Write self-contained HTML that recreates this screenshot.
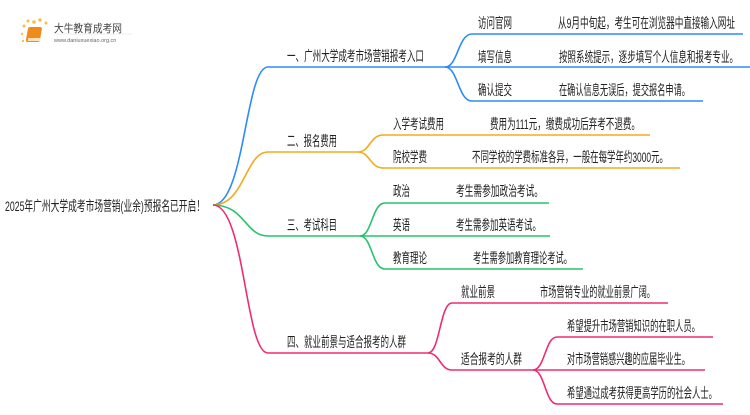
<!DOCTYPE html>
<html><head><meta charset="utf-8"><style>
body{margin:0;background:#fff;}
svg text{font-family:"Liberation Sans","Noto Sans CJK SC",sans-serif;font-size:14px;fill:#222;}
</style></head><body>
<svg width="750" height="410" viewBox="0 0 750 410" xmlns="http://www.w3.org/2000/svg">
<g>
<circle cx="24" cy="26" r="1.5" fill="#f7c04a"/><circle cx="28" cy="21" r="1.5" fill="#f7c04a"/><circle cx="34" cy="22" r="1.8" fill="#f7c04a"/><circle cx="40" cy="20" r="1.8" fill="#f7c04a"/><circle cx="46" cy="23" r="1.5" fill="#f7c04a"/><circle cx="22" cy="34" r="1.2" fill="#f7c04a"/><circle cx="23" cy="41" r="1.2" fill="#f7c04a"/>
<rect x="33" y="27" width="14" height="15" rx="2" fill="#f08a1c" transform="skewX(-10)"/>
<rect x="35" y="38" width="12" height="3" fill="#fde3b5" transform="skewX(-10)"/>
<text x="54" y="32" style="font-size:11px;fill:#444" textLength="68" lengthAdjust="spacingAndGlyphs">大牛教育成考网</text>
<text x="54" y="42" style="font-size:5.5px;fill:#666">www.daniuxuexiao.org.cn</text>
<line x1="54" y1="34" x2="132" y2="34" stroke="#ddd" stroke-width="0.6"/>
</g>
<g fill="none" stroke-width="1.6">
<g stroke="#2b8cf7">
<path d="M213,205 C245,205 245,67 268,67 L445,67"/>
<path d="M445,67 C458,67 458,34 472,34 L743,34"/>
<path d="M445,67 L750,67"/>
<path d="M445,67 C458,67 458,101 472,101 L703,101"/>
</g>
<g stroke="#f5aa1c">
<path d="M213,205 C245,205 245,152 268,152 L358,152"/>
<path d="M358,152 C370,152 370,135 383,135 L650,135"/>
<path d="M358,152 C370,152 370,168 383,168 L680,168"/>
</g>
<g stroke="#27c26c">
<path d="M213,205 C245,205 245,236 268,236 L360,236"/>
<path d="M360,236 C372,236 372,203 385,203 L549,203"/>
<path d="M360,236 L550,236"/>
<path d="M360,236 C372,236 372,269 385,269 L583,269"/>
</g>
<g stroke="#ee2c74">
<path d="M213,205 C245,205 245,353 268,353 L428,353"/>
<path d="M428,353 C440,353 440,303 452,303 L668,303"/>
<path d="M428,353 C440,353 440,370 452,370 L533,370"/>
<path d="M533,370 C545,370 545,337 557,337 L713,337"/>
<path d="M533,370 L705,370"/>
<path d="M533,370 C545,370 545,404 557,404 L723,404"/>
</g>
</g>
<g lengthAdjust="spacingAndGlyphs">
<text x="5" y="211" textLength="200" lengthAdjust="spacingAndGlyphs">2025年广州大学成考市场营销(业余)预报名已开启！</text>
<text x="287" y="61" textLength="137" lengthAdjust="spacingAndGlyphs">一、广州大学成考市场营销报考入口</text>
<text x="478" y="28" textLength="34" lengthAdjust="spacingAndGlyphs">访问官网</text><text x="558" y="28" textLength="177" lengthAdjust="spacingAndGlyphs">从9月中旬起，考生可在浏览器中直接输入网址</text>
<text x="478" y="62" textLength="34" lengthAdjust="spacingAndGlyphs">填写信息</text><text x="559" y="62" textLength="179" lengthAdjust="spacingAndGlyphs">按照系统提示，逐步填写个人信息和报考专业。</text>
<text x="478" y="95" textLength="34" lengthAdjust="spacingAndGlyphs">确认提交</text><text x="559" y="95" textLength="131" lengthAdjust="spacingAndGlyphs">在确认信息无误后，提交报名申请。</text>
<text x="287" y="146" textLength="50" lengthAdjust="spacingAndGlyphs">二、报名费用</text>
<text x="393" y="129" textLength="51" lengthAdjust="spacingAndGlyphs">入学考试费用</text><text x="490" y="129" textLength="150" lengthAdjust="spacingAndGlyphs">费用为111元，缴费成功后弃考不退费。</text>
<text x="393" y="162" textLength="34" lengthAdjust="spacingAndGlyphs">院校学费</text><text x="472" y="162" textLength="196" lengthAdjust="spacingAndGlyphs">不同学校的学费标准各异，一般在每学年约3000元。</text>
<text x="287" y="230" textLength="50" lengthAdjust="spacingAndGlyphs">三、考试科目</text>
<text x="393" y="196" textLength="17" lengthAdjust="spacingAndGlyphs">政治</text><text x="456" y="196" textLength="87" lengthAdjust="spacingAndGlyphs">考生需参加政治考试。</text>
<text x="393" y="230" textLength="17" lengthAdjust="spacingAndGlyphs">英语</text><text x="456" y="230" textLength="85" lengthAdjust="spacingAndGlyphs">考生需参加英语考试。</text>
<text x="393" y="263" textLength="34" lengthAdjust="spacingAndGlyphs">教育理论</text><text x="473" y="263" textLength="99" lengthAdjust="spacingAndGlyphs">考生需参加教育理论考试。</text>
<text x="287" y="347" textLength="119" lengthAdjust="spacingAndGlyphs">四、就业前景与适合报考的人群</text>
<text x="461" y="297" textLength="34" lengthAdjust="spacingAndGlyphs">就业前景</text><text x="540" y="297" textLength="115" lengthAdjust="spacingAndGlyphs">市场营销专业的就业前景广阔。</text>
<text x="461" y="364" textLength="61" lengthAdjust="spacingAndGlyphs">适合报考的人群</text>
<text x="567" y="331" textLength="133" lengthAdjust="spacingAndGlyphs">希望提升市场营销知识的在职人员。</text>
<text x="567" y="364" textLength="123" lengthAdjust="spacingAndGlyphs">对市场营销感兴趣的应届毕业生。</text>
<text x="567" y="398" textLength="150" lengthAdjust="spacingAndGlyphs">希望通过成考获得更高学历的社会人士。</text>
</g>
</svg>
</body></html>
